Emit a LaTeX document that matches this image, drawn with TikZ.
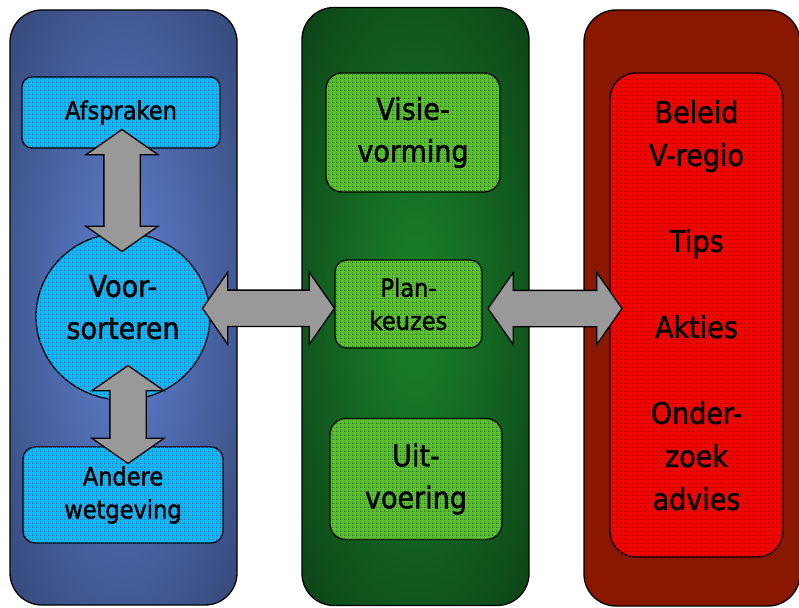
\documentclass[tikz,border=0pt]{standalone}
\usepackage{fontspec}
\setmainfont{DejaVu Sans}[FakeStretch=0.9,FakeBold=1.5]
\usetikzlibrary{shapes.geometric,shapes.arrows,patterns,calc}
\definecolor{bluein}{HTML}{5A7AC6}
\definecolor{blueout}{HTML}{2D3D68}
\definecolor{greenin}{HTML}{187A28}
\definecolor{greenout}{HTML}{0B3B14}
\definecolor{redcol}{HTML}{8A1800}
\definecolor{cyanbox}{HTML}{00CCFF}
\definecolor{cyandot}{HTML}{4A58A8}
\definecolor{greenbox}{HTML}{66CC33}
\definecolor{greendot}{HTML}{1B6420}
\definecolor{redbox}{HTML}{FF0000}
\definecolor{reddot}{HTML}{B80A00}
\definecolor{arrowgray}{HTML}{999999}
\pgfdeclareradialshading{blueglow}{\pgfpointorigin}{color(0bp)=(bluein); color(5bp)=(bluein); color(42bp)=(blueout); color(50bp)=(blueout)}
\pgfdeclareradialshading{greenglow}{\pgfpointorigin}{color(0bp)=(greenin); color(5bp)=(greenin); color(40bp)=(greenout); color(50bp)=(greenout)}
\pgfdeclarepatternformonly{mydots}{\pgfqpoint{0pt}{0pt}}{\pgfqpoint{4pt}{4pt}}{\pgfqpoint{4pt}{4pt}}{%
  \pgfpathrectangle{\pgfqpoint{0pt}{0pt}}{\pgfqpoint{1pt}{1pt}}%
  \pgfpathrectangle{\pgfqpoint{2pt}{0pt}}{\pgfqpoint{1pt}{1pt}}%
  \pgfpathrectangle{\pgfqpoint{0pt}{2pt}}{\pgfqpoint{1pt}{1pt}}%
  \pgfusepath{fill}}
\begin{document}
\begin{tikzpicture}[x=1pt,y=-1pt,line width=1.3pt,
  column/.style={rectangle, draw=black, rounded corners=32pt, inner sep=0pt},
  box/.style={rectangle, draw=black, rounded corners=#1, inner sep=0pt, align=center},
  cyanfill/.style={fill=cyanbox!86!cyandot, postaction={pattern=mydots, pattern color=cyandot!75!cyanbox}},
  greenfill/.style={fill=greenbox!88!greendot, postaction={pattern=mydots, pattern color=greendot!80!greenbox}},
  redfill/.style={fill=redbox!92!reddot, postaction={pattern=mydots, pattern color=reddot}},
  bigtxt/.style={font=\fontsize{30}{42}\selectfont},
  smalltxt/.style={font=\fontsize{25}{33}\selectfont},
  bigarrow/.style={double arrow, draw=black, fill=arrowgray, inner xsep=0pt, inner ysep=17.5pt,
    double arrow head extend=18pt, double arrow tip angle=110}]
\useasboundingbox (0,0) rectangle (799,607);
\clip (0,0) rectangle (799,607);
% columns
\node[column, shade, shading=blueglow, minimum width=227pt, minimum height=595pt] (lcol) at (123.5,307.5) {};
\node[column, shade, shading=greenglow, minimum width=227pt, minimum height=598pt] (mcol) at (415.5,306.5) {};
\node[column, fill=redcol, minimum width=216pt, minimum height=596pt] (rcol) at (692,308) {};
% left column
\node[box=10pt, cyanfill, smalltxt, minimum width=198pt, minimum height=71pt] (afs) at (121,112.5) {Afspraken};
\node[ellipse, draw=black, cyanfill, bigtxt, align=center, inner sep=0pt, minimum width=174pt, minimum height=167pt] (voor) at (123,316.5) {Voor-\\sorteren\rule[-19pt]{0pt}{19pt}};
\node[box=12pt, cyanfill, smalltxt, minimum width=200pt, minimum height=96pt] (andere) at (123,495) {Andere\\wetgeving};
% middle column
\node[box=16pt, greenfill, bigtxt, minimum width=174pt, minimum height=119pt] (visie) at (413,132.5) {Visie-\\vorming};
\node[box=12pt, greenfill, smalltxt, minimum width=147pt, minimum height=88pt] (plan) at (408.5,304) {Plan-\\keuzes};
\node[box=16pt, greenfill, bigtxt, minimum width=172pt, minimum height=121pt] (uit) at (416,479) {Uit-\\voering};
% right column
\node[box=26pt, redfill, font=\fontsize{30}{43}\selectfont, minimum width=173pt, minimum height=484pt] (rbox) at (696.5,315)
  {Beleid\\V-regio\\[43pt]Tips\\[43pt]Akties\\[43pt]Onder-\\zoek\\advies\rule[-20pt]{0pt}{20pt}};
% arrows
\node[bigarrow, rotate=90, minimum height=122pt] (a1) at ($(afs.south)!.5!(voor.north)$) {};
\node[bigarrow, rotate=90, minimum height=98pt] (a2) at ($(voor.south)!.5!(andere.north)+(5,-9)$) {};
\node[bigarrow, minimum height=132pt] (a3) at ($(voor.east)!.5!(plan.west)+(-4,-2)$) {};
\node[bigarrow, minimum height=134pt] (a4) at ($(plan.east)!.5!(rbox.west)+(9,-1)$) {};
\end{tikzpicture}
\end{document}
